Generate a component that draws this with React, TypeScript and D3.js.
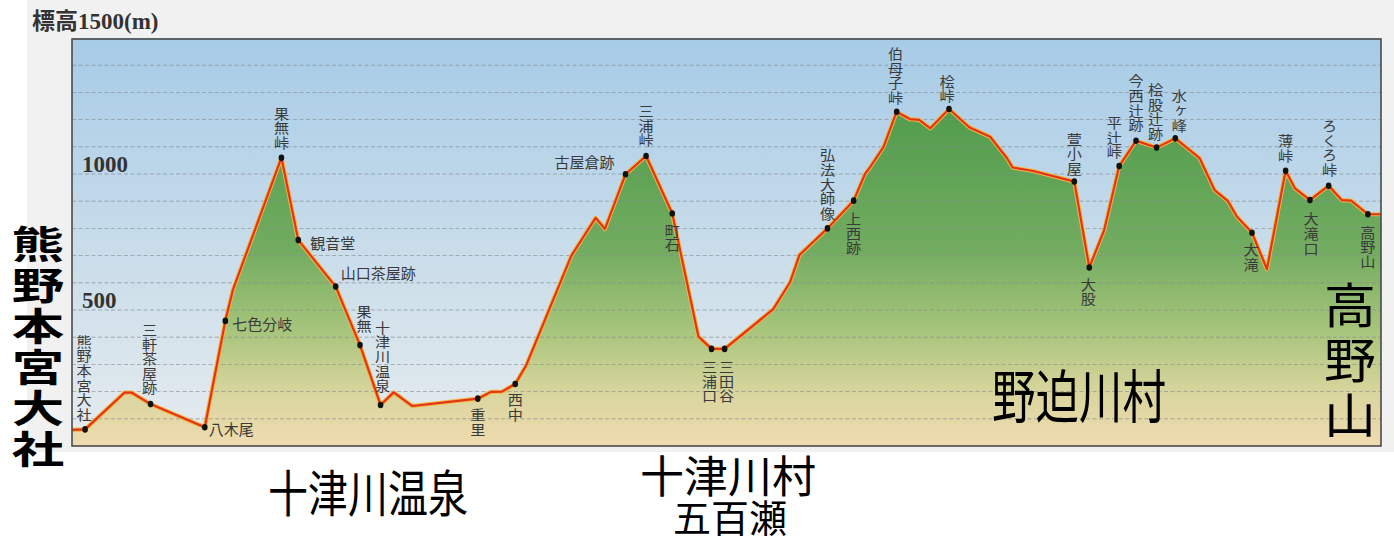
import React from 'react';
import * as d3 from 'd3';

const W = 1394;
const H = 542;

// 縦断面 [距離(km), 標高(m)]
const profile: [number, number][] = [
  [0, 59], [0.7, 61], [2.8, 196], [3.2, 196], [4.2, 154], [7.1, 69],
  [8.2, 460], [8.6, 573], [11.2, 1060], [12.1, 757], [14.1, 586], [15.4, 371],
  [16.5, 151], [17.2, 197], [18.2, 147], [21.7, 174], [22.4, 199], [23.0, 200],
  [23.7, 228], [24.3, 298], [26.7, 699], [28.0, 839], [28.5, 798], [29.6, 999],
  [30.7, 1066], [32.1, 855], [33.5, 402], [34.2, 357], [34.9, 357], [37.5, 503],
  [38.4, 602], [38.9, 702], [40.4, 800], [41.8, 902], [42.4, 999], [42.7, 1027],
  [43.4, 1100], [44.1, 1229], [44.8, 1202], [45.3, 1199], [45.9, 1168], [46.9, 1239],
  [48.0, 1171], [49.1, 1137], [50.0, 1058], [50.3, 1024], [51.4, 1011], [53.6, 972],
  [54.4, 656], [55.2, 794], [56.0, 1029], [56.9, 1122], [58.0, 1097], [59.0, 1131],
  [60.3, 1058], [61.1, 941], [61.8, 901], [62.3, 843], [63.1, 784], [63.9, 650],
  [64.9, 1012], [65.4, 947], [66.2, 904], [67.2, 957], [67.9, 904], [68.4, 902],
  [69.3, 852], [70.0, 852],
];

// 地点名と距離(km)
const waypoints: [string, number][] = [
  ['熊野本宮大社', 0.7], ['三軒茶屋跡', 4.2], ['八木尾', 7.1], ['七色分岐', 8.2],
  ['果無峠', 11.2], ['観音堂', 12.1], ['山口茶屋跡', 14.1], ['果無', 15.4],
  ['十津川温泉', 16.5], ['重里', 21.7], ['西中', 23.7], ['古屋倉跡', 29.6],
  ['三浦峠', 30.7], ['町石', 32.1], ['三浦口', 34.2], ['三田谷', 34.9],
  ['弘法大師像', 40.4], ['上西跡', 41.8], ['伯母子峠', 44.1], ['桧峠', 46.9],
  ['萱小屋', 53.6], ['大股', 54.4], ['平辻峠', 56.0], ['今西辻跡', 56.9],
  ['桧股辻跡', 58.0], ['水ヶ峰', 59.0], ['大滝', 63.1], ['薄峠', 64.9],
  ['大滝口', 66.2], ['ろくろ峠', 67.2], ['高野山', 69.3],
];

const tickLabels = [500, 1000];

// ラベルの置き方: [向き, dx, 間隔]
const labelPos: Record<string, [string, number, number]> = {
  '熊野本宮大社': ['up', -1, 8], '三軒茶屋跡': ['up', -1, 9], '八木尾': ['right', 4, 1],
  '七色分岐': ['right', 7, 3], '果無峠': ['up', 0, 8], '観音堂': ['right', 12, 2],
  '山口茶屋跡': ['right', 5, -14], '果無': ['up', 4, 12], '十津川温泉': ['up', 2, 12],
  '重里': ['down', 0, 9], '西中': ['down', 0, 9], '古屋倉跡': ['left', -11, -13],
  '三浦峠': ['up', 0, 9], '町石': ['down', 0, 10], '三浦口': ['down', -2, 11],
  '三田谷': ['down', 2, 11], '弘法大師像': ['up', 0, 8], '上西跡': ['down', 0, 11],
  '伯母子峠': ['up', -1, 7], '桧峠': ['up', -2, 6], '萱小屋': ['up', 0, 6],
  '大股': ['down', -1, 10], '平辻峠': ['up', -5, 7], '今西辻跡': ['up', 0, 9],
  '桧股辻跡': ['up', -1, 7], '水ヶ峰': ['up', 4, 6], '大滝': ['down', -1, 10],
  '薄峠': ['up', 0, 8], '大滝口': ['down', 1, 12], 'ろくろ峠': ['up', 1, 9],
  '高野山': ['down', 0, 11],
};

const left = 72, right = 1381, top = 38, bottom = 446;
const x = d3.scaleLinear().domain([0, 70]).range([left, right]);
const y = d3.scaleLinear().domain([0, 1500]).range([bottom, top]);

const jp = '"Noto Sans CJK JP", "Noto Sans", sans-serif';
const serif = '"Liberation Serif", "DejaVu Serif", "Noto Sans CJK JP", serif';

function elevAt(km: number) {
  const p = profile.find(d => d[0] === km);
  return p ? p[1] : 0;
}

function Label({ name, px, py }: { name: string; px: number; py: number }) {
  const [mode, dx, gap] = labelPos[name];
  if (mode === 'right' || mode === 'left') {
    return (
      <text x={px + dx} y={py + gap} fontSize={15} fill="#3a3a3a" fontFamily={jp}
        dominantBaseline="central" textAnchor={mode === 'left' ? 'end' : 'start'}>{name}</text>
    );
  }
  // 縦書き
  const up = mode === 'up';
  return (
    <text transform={`translate(${px + dx},${up ? py - gap + 0.6 : py + gap}) scale(1.08,1)`}
      style={{ writingMode: 'vertical-rl', letterSpacing: '0.6px' }}
      fontSize={14} fill="#3a3a3a" fontFamily={jp}
      textAnchor={up ? 'end' : 'start'}>{name}</text>
  );
}

function BigVertical({ text, cx, y0, spacing, size, sx, weight }: any) {
  return (
    <text transform={`translate(${cx},${y0}) scale(${sx},1)`}
      style={{ writingMode: 'vertical-rl', letterSpacing: `${spacing}px` }}
      fontSize={size} fontWeight={weight} fill="#000" fontFamily={jp} textAnchor="start">{text}</text>
  );
}

export default function App() {
  const line = d3.line<[number, number]>().x(d => x(d[0])).y(d => y(d[1]));
  const area = d3.area<[number, number]>().x(d => x(d[0])).y0(y(0)).y1(d => y(d[1]));
  const grid = d3.range(100, 1500, 100);

  return (
    <div style={{ position: 'absolute', left: 0, top: 0 }}>
      <svg width={W} height={H} style={{ display: 'block', background: '#fff' }}>
        <defs>
          <linearGradient id="sky" gradientUnits="userSpaceOnUse" x1={0} y1={top} x2={0} y2={bottom}>
            <stop offset="0" stopColor="#a6cbe7" />
            <stop offset="0.5" stopColor="#c8dcea" />
            <stop offset="1" stopColor="#e6ecee" />
          </linearGradient>
          <linearGradient id="land" gradientUnits="userSpaceOnUse" x1={0} y1={top} x2={0} y2={bottom}>
            <stop offset="0.17" stopColor="#519c4d" />
            <stop offset="0.52" stopColor="#72ac60" />
            <stop offset="0.72" stopColor="#a8c57c" />
            <stop offset="0.87" stopColor="#d9d59e" />
            <stop offset="1" stopColor="#f0dbb0" />
          </linearGradient>
          <clipPath id="plot">
            <rect x={left} y={top} width={right - left} height={bottom - top} />
          </clipPath>
        </defs>

        <rect x={27} y={0} width={W - 27} height={452} fill="#f1f1f1" />
        <rect x={left} y={top} width={right - left} height={bottom - top} fill="url(#sky)" />

        <g clipPath="url(#plot)">
          <path d={area(profile) || ''} fill="url(#land)" />
          {grid.map(g => (
            <line key={g} x1={left} x2={right} y1={y(g)} y2={y(g)}
              stroke="#868d92" strokeWidth={0.8} strokeDasharray="4 2.5" opacity={0.85} />
          ))}
          <path d={line(profile) || ''} fill="none" stroke="#f3b63c" strokeWidth={4.2} strokeLinejoin="round" />
          <path d={line(profile) || ''} fill="none" stroke="#e2341c" strokeWidth={2.2} strokeLinejoin="round" />
        </g>

        <rect x={left} y={top + 1} width={right - left} height={bottom - top - 1}
          fill="none" stroke="#4a4a4a" strokeWidth={1.6} />

        <text x={32} y={29} fontSize={23} fontWeight="bold" fill="#333" fontFamily={serif}>標高1500(m)</text>
        {tickLabels.map(t => (
          <text key={t} x={82} y={y(t) - 2} fontSize={23} fontWeight="bold" fill="#333" fontFamily={serif}>{t}</text>
        ))}

        {waypoints.map(([name, km]) => {
          const px = x(km), py = y(elevAt(km));
          return (
            <g key={name}>
              <ellipse cx={px} cy={py} rx={2.8} ry={3.3} fill="#111" />
              <Label name={name} px={px} py={py} />
            </g>
          );
        })}

        <BigVertical text="熊野本宮大社" cx={38} y0={225} spacing={3} size={38} sx={1.38} weight="bold" />
        <BigVertical text="高野山" cx={1350} y0={281} spacing={7} size={48} sx={1.08} weight="normal" />

        <text transform="translate(1079,393) scale(0.75,1)" fontSize={58} fill="#000" fontFamily={jp}
          textAnchor="middle" dominantBaseline="central">野迫川村</text>
        <text transform="translate(368,490) scale(0.8,1)" fontSize={50} fill="#000" fontFamily={jp}
          textAnchor="middle" dominantBaseline="central">十津川温泉</text>
        <text fill="#000" fontFamily={jp} textAnchor="middle">
          <tspan x={728} y={493} fontSize={44}>十津川村</tspan>
          <tspan x={730} y={532} fontSize={38}>五百瀬</tspan>
        </text>
      </svg>
    </div>
  );
}
